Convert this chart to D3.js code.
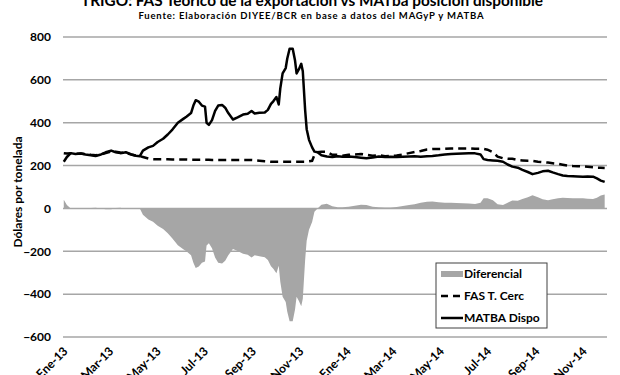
<!DOCTYPE html>
<html>
<head>
<meta charset="utf-8">
<script src="https://cdn.jsdelivr.net/npm/d3@7"></script>
<style>
body { margin: 0; background: #fff; }
text { font-family: Lato, "Open Sans", sans-serif; font-weight: bold; fill: #000; }
</style>
</head>
<body>
<svg id="chart" width="620" height="375"></svg>
<script>
var dates = [
    "2013-01-02","2013-01-06","2013-01-11","2013-01-17","2013-01-24","2013-01-30","2013-02-06","2013-02-12",
    "2013-02-19","2013-02-25","2013-03-04","2013-03-10","2013-03-16","2013-03-23","2013-03-30","2013-04-05",
    "2013-04-10","2013-04-14","2013-04-21","2013-04-27","2013-05-03","2013-05-10","2013-05-16","2013-05-22",
    "2013-05-29","2013-06-05","2013-06-09","2013-06-15","2013-06-18","2013-06-21","2013-06-25","2013-06-29",
    "2013-07-03","2013-07-05","2013-07-08","2013-07-12","2013-07-16","2013-07-20","2013-07-25","2013-07-29",
    "2013-08-02","2013-08-08","2013-08-14","2013-08-21","2013-08-27","2013-09-01","2013-09-05","2013-09-11",
    "2013-09-18","2013-09-22","2013-09-26","2013-09-29","2013-10-03","2013-10-06","2013-10-08","2013-10-11",
    "2013-10-15","2013-10-17","2013-10-20","2013-10-24","2013-10-27","2013-10-29","2013-11-01","2013-11-04",
    "2013-11-06","2013-11-09","2013-11-11","2013-11-14","2013-11-18","2013-11-21","2013-11-25","2013-11-30",
    "2013-12-07","2013-12-14","2013-12-21","2013-12-27","2014-01-04","2014-01-12","2014-01-20","2014-01-27",
    "2014-02-04","2014-02-12","2014-02-20","2014-02-27","2014-03-07","2014-03-15","2014-03-23","2014-03-30",
    "2014-04-07","2014-04-15","2014-04-22","2014-04-30","2014-05-08","2014-05-16","2014-05-23","2014-05-31",
    "2014-06-08","2014-06-16","2014-06-23","2014-06-27","2014-07-02","2014-07-09","2014-07-15","2014-07-22",
    "2014-07-28","2014-08-03","2014-08-10","2014-08-16","2014-08-23","2014-08-29","2014-09-05","2014-09-11",
    "2014-09-18","2014-09-24","2014-10-01","2014-10-07","2014-10-13","2014-10-20","2014-10-26","2014-11-02",
    "2014-11-08","2014-11-15","2014-11-20","2014-11-25","2014-11-30"
];

var matba = [
    218,240,258,254,256,252,248,245,252,262,270,262,258,262,252,246,
    244,270,285,292,310,325,345,368,400,418,428,445,480,505,498,480,
    475,400,390,412,455,480,483,470,445,415,425,438,442,455,443,446,
    448,460,488,500,520,485,560,630,655,700,745,745,690,630,650,675,
    640,460,370,320,285,265,262,248,242,240,244,241,242,240,237,234,
    238,242,240,241,240,241,242,243,241,244,245,248,252,254,255,256,
    257,257,252,230,226,224,222,218,205,195,190,180,170,160,166,173,
    176,168,160,154,151,150,149,148,149,148,140,130,124
];

var fas = [
    258,256,258,255,256,253,250,248,252,258,266,264,261,259,252,247,
    244,240,233,230,229,229,229,228,228,228,228,227,227,227,227,227,
    227,227,227,226,226,226,226,226,226,226,226,226,226,226,225,223,
    220,219,218,218,218,218,218,218,218,218,218,218,218,218,218,218,
    218,218,219,220,222,250,262,265,264,250,250,246,250,252,254,250,
    246,248,244,245,247,252,258,263,268,275,277,277,278,280,280,280,
    280,278,278,278,274,262,242,234,232,232,226,224,222,222,218,216,
    214,211,208,204,200,198,197,196,194,192,190,190,189
];

var diferencial = [
    40,16,0,1,0,1,2,3,0,-4,-4,2,3,-3,0,1,
    0,-30,-52,-62,-81,-96,-116,-140,-172,-190,-200,-218,-253,-278,-271,-253,
    -248,-173,-163,-186,-229,-254,-257,-244,-219,-189,-199,-212,-216,-229,-218,-223,
    -228,-241,-270,-282,-302,-267,-342,-412,-437,-482,-527,-527,-472,-412,-432,-457,
    -422,-242,-151,-100,-63,-15,0,17,22,10,6,5,8,12,17,16,
    8,6,4,4,7,11,16,20,27,31,32,29,26,26,25,24,
    23,21,26,48,48,38,20,16,27,37,36,44,52,62,52,43,
    38,43,48,50,49,48,48,48,45,44,50,60,65
];

var yTicks = [-600, -400, -200, 0, 200, 400, 600, 800];
var xTickDates = [
    "2013-01-01","2013-03-01","2013-05-01","2013-07-01","2013-09-01","2013-11-01",
    "2014-01-01","2014-03-01","2014-05-01","2014-07-01","2014-09-01","2014-11-01"
];
var xTickLabels = [
    "Ene-13","Mar-13","May-13","Jul-13","Sep-13","Nov-13",
    "Ene-14","Mar-14","May-14","Jul-14","Sep-14","Nov-14"
];
var legendItems = ["Diferencial", "FAS T. Cerc", "MATBA Dispo"];

var parse = d3.timeParse("%Y-%m-%d");
var rows = dates.map(function(d, i) {
    return { date: parse(d), matba: matba[i], fas: fas[i], dif: diferencial[i] };
});

var svg = d3.select("#chart");
var plotLeft = 63, plotRight = 607, plotTop = 37, plotBottom = 337;

var x = d3.scaleTime()
    .domain([parse("2013-01-01"), parse("2014-12-03")])
    .range([plotLeft, plotRight]);
var y = d3.scaleLinear()
    .domain([-600, 800])
    .range([plotBottom, plotTop]);

svg.append("text")
    .attr("x", 312)
    .attr("y", 6)
    .attr("text-anchor", "middle")
    .attr("textLength", 462)
    .attr("lengthAdjust", "spacingAndGlyphs")
    .style("font-size", "16px")
    .text("TRIGO: FAS Teórico de la exportación vs MATba posición disponible");

svg.append("text")
    .attr("x", 311)
    .attr("y", 19)
    .attr("text-anchor", "middle")
    .attr("textLength", 345)
    .attr("lengthAdjust", "spacing")
    .style("font-size", "9.5px")
    .text("Fuente: Elaboración DIYEE/BCR en base a datos del MAGyP y MATBA");

// area first, grid drawn over it like the original
svg.append("path")
    .datum(rows)
    .attr("fill", "#a6a6a6")
    .attr("d", d3.area()
        .x(function(d) { return x(d.date); })
        .y0(y(0))
        .y1(function(d) { return y(d.dif); }));

svg.append("g")
    .selectAll("line")
    .data(yTicks)
    .enter()
    .append("line")
    .attr("x1", plotLeft)
    .attr("x2", plotRight)
    .attr("y1", function(d) { return y(d); })
    .attr("y2", function(d) { return y(d); })
    .attr("stroke", "#a6a6a6")
    .attr("stroke-width", 1.5);

var yAxis = svg.append("g")
    .attr("transform", "translate(" + (plotLeft - 12) + ",0)")
    .call(d3.axisLeft(y).tickValues(yTicks).tickSize(0).tickPadding(0));
yAxis.select(".domain").remove();
yAxis.selectAll("text")
    .style("font-size", "12px")
    .style("font-family", "Lato, sans-serif");

var xAxis = svg.append("g")
    .attr("transform", "translate(0," + plotBottom + ")")
    .call(d3.axisBottom(x)
        .tickValues(xTickDates.map(parse))
        .tickSize(0)
        .tickFormat(function(d, i) { return xTickLabels[i]; }));
xAxis.select(".domain").remove();
xAxis.selectAll("text")
    .attr("x", 0)
    .attr("y", 0)
    .attr("dy", "0.35em")
    .attr("text-anchor", "end")
    .attr("transform", "translate(2,12) rotate(-45)")
    .style("font-size", "12px")
    .style("font-family", "Lato, sans-serif");

svg.append("text")
    .attr("transform", "translate(22,192) rotate(-90)")
    .attr("text-anchor", "middle")
    .style("font-size", "12px")
    .text("Dólares por tonelada");

svg.append("path")
    .datum(rows)
    .attr("fill", "none")
    .attr("stroke", "#000")
    .attr("stroke-width", 2.5)
    .attr("stroke-dasharray", "8,5")
    .attr("d", d3.line()
        .x(function(d) { return x(d.date); })
        .y(function(d) { return y(d.fas); }));

svg.append("path")
    .datum(rows)
    .attr("fill", "none")
    .attr("stroke", "#000")
    .attr("stroke-width", 2.5)
    .attr("stroke-linejoin", "round")
    .attr("d", d3.line()
        .x(function(d) { return x(d.date); })
        .y(function(d) { return y(d.matba); }));

var legend = svg.append("g").attr("transform", "translate(436,263)");
legend.append("rect")
    .attr("width", 111)
    .attr("height", 65)
    .attr("fill", "#fff")
    .attr("stroke", "#404040")
    .attr("stroke-width", 1);

var item = legend.selectAll("g.item")
    .data(legendItems)
    .enter()
    .append("g")
    .attr("class", "item")
    .attr("transform", function(d, i) { return "translate(5," + (11 + i * 22) + ")"; });

item.each(function(d, i) {
    var g = d3.select(this);
    if (i === 0) {
        g.append("rect").attr("x", 0).attr("y", -3).attr("width", 22).attr("height", 6).attr("fill", "#a6a6a6");
    } else {
        g.append("line")
            .attr("x1", 0).attr("x2", 22)
            .attr("stroke", "#000")
            .attr("stroke-width", 2.5)
            .attr("stroke-dasharray", i === 1 ? "7,5" : null);
    }
    g.append("text")
        .attr("x", 23)
        .attr("dy", "0.35em")
        .style("font-size", "12px")
        .text(d);
});
</script>
</body>
</html>
